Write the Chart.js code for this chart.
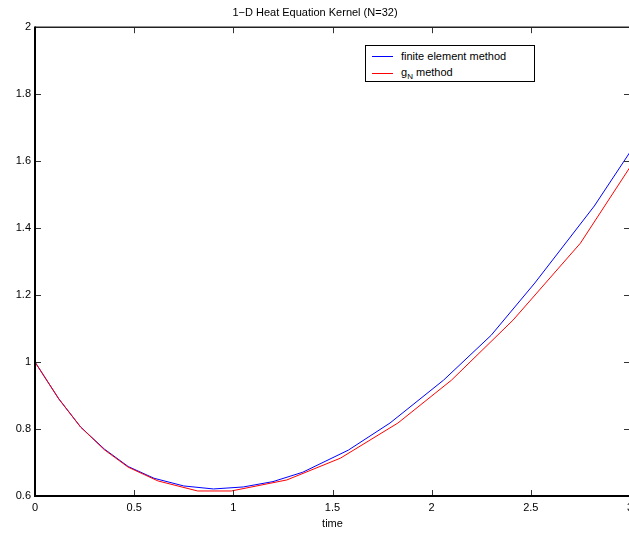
<!DOCTYPE html>
<html><head><meta charset="utf-8">
<script src="https://cdn.jsdelivr.net/npm/chart.js@4"></script>
<style>
html,body{margin:0;padding:0;width:629px;height:533px;overflow:hidden;background:#fff}
#wrap{position:relative;width:632px;height:533px}
#c{display:block}
#legend{position:absolute;left:365px;top:45px;width:168px;height:35px;border:1px solid #000;background:#fff;font:11px "Liberation Sans",Arial,sans-serif;color:#000}
#legend .row{position:absolute;left:0;height:14px;line-height:14px;white-space:nowrap}
#legend .sw{position:absolute;left:6px;width:21px;height:0;border-top:1px solid}
#legend .tx{position:absolute;left:35px;top:0}
#legend sub{font-size:8px;vertical-align:-3px;line-height:0}
</style>
</head><body>
<div id="wrap">
<canvas id="c" width="632" height="533"></canvas>
<div id="legend">
  <div class="row" style="top:3px;width:168px"><span class="sw" style="top:7px;border-color:#0000ff"></span><span class="tx">finite element method</span></div>
  <div class="row" style="top:19px;width:168px"><span class="sw" style="top:8px;border-color:#ff0000"></span><span class="tx">g<sub>N</sub> method</span></div>
</div>
</div>
<script>
// ---- data ----
const titleText = "1\u2212D Heat Equation Kernel (N=32)";
const xTitle = "time";
const xTicks = [0, 0.5, 1, 1.5, 2, 2.5, 3];
const yTicks = [0.6, 0.8, 1, 1.2, 1.4, 1.6, 1.8, 2];

const femTime  = [0, 0.12, 0.23, 0.35, 0.47, 0.6, 0.75, 0.9, 1.05, 1.2, 1.35, 1.58, 1.79, 2.06, 2.3, 2.52, 2.82, 3.0];
const femValue = [1, 0.89, 0.806, 0.74, 0.688, 0.653, 0.630, 0.621, 0.627, 0.643, 0.671, 0.737, 0.818, 0.946, 1.08, 1.236, 1.466, 1.627];

const gnTime  = [0, 0.12, 0.23, 0.35, 0.47, 0.62, 0.82, 0.99, 1.27, 1.54, 1.83, 2.1, 2.41, 2.75, 3.0];
const gnValue = [1, 0.89, 0.806, 0.738, 0.686, 0.645, 0.615, 0.615, 0.648, 0.713, 0.818, 0.946, 1.125, 1.355, 1.582];

const FONT = "'Liberation Sans', Arial, Helvetica, sans-serif";
const fmt = v => String(parseFloat(Number(v).toFixed(2)));

const boxPlugin = {
  id: 'boxTicks',
  afterDraw(chart) {
    const ctx = chart.ctx, a = chart.chartArea;
    const xs = chart.scales.x, ys = chart.scales.y;
    ctx.save();
    // inward tick marks
    ctx.strokeStyle = '#333';
    ctx.lineWidth = 1;
    ctx.beginPath();
    xTicks.forEach(t => {
      const px = Math.round(xs.getPixelForValue(t)) + 0.5;
      ctx.moveTo(px, a.bottom); ctx.lineTo(px, a.bottom - 6);
      ctx.moveTo(px, a.top); ctx.lineTo(px, a.top + 6);
    });
    yTicks.forEach(t => {
      const py = Math.round(ys.getPixelForValue(t)) + 0.5;
      ctx.moveTo(a.left, py); ctx.lineTo(a.left + 6, py);
      ctx.moveTo(a.right, py); ctx.lineTo(a.right - 6, py);
    });
    ctx.stroke();
    // box
    ctx.strokeStyle = '#222';
    ctx.lineWidth = 1.5;
    ctx.beginPath();
    ctx.moveTo(a.left, a.top); ctx.lineTo(a.right, a.top);
    ctx.moveTo(a.right, a.top); ctx.lineTo(a.right, a.bottom);
    ctx.stroke();
    ctx.strokeStyle = '#000';
    ctx.lineWidth = 2;
    ctx.beginPath();
    ctx.moveTo(a.left, a.top - 0.75); ctx.lineTo(a.left, a.bottom);
    ctx.lineTo(a.right, a.bottom);
    ctx.stroke();
    ctx.restore();
  }
};

new Chart(document.getElementById('c'), {
  type: 'line',
  data: {
    datasets: [
      { label: 'finite element method', data: femTime.map((t, i) => ({x: t, y: femValue[i]})),
        borderColor: '#0000ff', borderWidth: 1, pointRadius: 0, tension: 0, fill: false, order: 1 },
      { label: 'gN method', data: gnTime.map((t, i) => ({x: t, y: gnValue[i]})),
        borderColor: '#ff0000', borderWidth: 1, pointRadius: 0, tension: 0, fill: false, order: 0 }
    ]
  },
  options: {
    responsive: false,
    devicePixelRatio: 1,
    animation: false,
    layout: { padding: { left: 0, right: 2, top: 0, bottom: 0 } },
    plugins: {
      legend: { display: false },
      tooltip: { enabled: false },
      title: { display: true, text: titleText, color: '#000',
               font: { family: FONT, size: 11, weight: 'normal', lineHeight: 1.2 },
               padding: { top: 6, bottom: 8 } }
    },
    scales: {
      x: {
        type: 'linear', min: 0, max: 3,
        afterBuildTicks: s => { s.ticks = xTicks.map(v => ({value: v})); },
        afterFit: s => { s.height = 37; s.paddingLeft = 0; s.paddingRight = 0; },
        grid: { display: false, drawTicks: false, tickLength: 0 }, border: { display: false },
        ticks: { color: '#000', font: { family: FONT, size: 11 }, padding: 5, maxRotation: 0, autoSkip: false, callback: fmt },
        title: { display: true, text: xTitle, color: '#000', font: { family: FONT, size: 11 }, padding: { top: 0, bottom: 2 } }
      },
      y: {
        type: 'linear', min: 0.6, max: 2,
        afterBuildTicks: s => { s.ticks = yTicks.map(v => ({value: v})); },
        afterFit: s => { s.width = 35; s.paddingTop = 0; s.paddingBottom = 0; },
        grid: { display: false, drawTicks: false, tickLength: 0 }, border: { display: false },
        ticks: { color: '#000', font: { family: FONT, size: 11 }, padding: 4, autoSkip: false, callback: fmt }
      }
    }
  },
  plugins: [boxPlugin]
});
</script>
</body></html>
